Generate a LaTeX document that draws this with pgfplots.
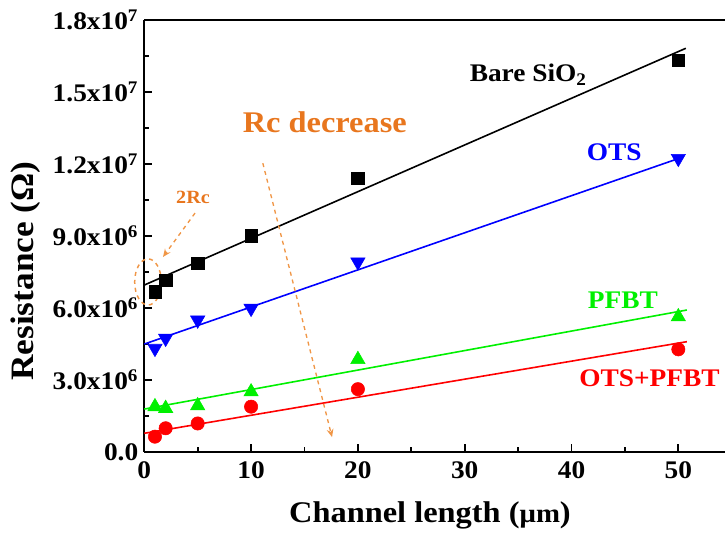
\documentclass[border=0pt]{standalone}
\usepackage{fontspec}
\setmainfont[FakeStretch=1.08]{Liberation Serif}
\usepackage{pgfplots}
\pgfplotsset{compat=1.18}
\usetikzlibrary{calc,arrows.meta}
\definecolor{rcorange}{RGB}{232,118,30}
\definecolor{dashorange}{RGB}{240,150,70}
\definecolor{pgreen}{RGB}{0,240,0}

\pgfplotstableread{
x y
1 6.67e6
2 7.16e6
5 7.85e6
10 9.0e6
20 11.4e6
50 16.33e6
}\bare
\pgfplotstableread{
x y
1 4.31e6
2 4.73e6
5 5.49e6
10 5.98e6
20 7.91e6
50 12.23e6
}\ots
\pgfplotstableread{
x y
1 1.88e6
2 1.81e6
5 1.92e6
10 2.50e6
20 3.85e6
50 5.63e6
}\pfbt
\pgfplotstableread{
x y
1 0.63e6
2 0.98e6
5 1.18e6
10 1.88e6
20 2.61e6
50 4.27e6
}\otspfbt

\begin{document}
\begin{tikzpicture}
\begin{axis}[
  scale only axis, width=435.5pt, height=323.8pt,
  xmin=0, xmax=54.37, ymin=0, ymax=1.8e7,
  axis x line*=box, axis y line*=left,
  xtick pos=bottom, ytick pos=left,
  tick align=inside,
  major tick length=6pt, minor tick length=3.5pt,
  xtick={0,10,20,30,40,50}, xticklabels={0,10,20,30,40,50},
  minor x tick num=1,
  ytick={0,3e6,6e6,9e6,1.2e7,1.5e7,1.8e7},
  yticklabels={0.0,3.0x10\textsuperscript{6},6.0x10\textsuperscript{6},9.0x10\textsuperscript{6},1.2x10\textsuperscript{7},1.5x10\textsuperscript{7},1.8x10\textsuperscript{7}},
  minor y tick num=1,
  scaled y ticks=false,
  tick label style={font=\fontsize{19}{21}\selectfont\bfseries},
  yticklabel style={xshift=-1pt},
  xticklabel style={yshift=-4pt},
  axis line style={line width=1.5pt},
  every tick/.style={line width=1.3pt, black},
  xlabel={Channel length ({\fontsize{20}{24}\selectfont μm})},
  ylabel={Resistance (Ω)},
  xlabel style={font=\fontsize{22.5}{26}\selectfont\bfseries, at={(axis description cs:0.492,-0.1466)}, anchor=center},
  ylabel style={font=\fontsize{24.5}{28}\selectfont\bfseries, at={(axis description cs:-0.2049,0.4186)}, anchor=center},
  clip=false,
]
\coordinate (bl) at (rel axis cs:0,0);
\coordinate (tr) at (rel axis cs:1,1);
% fitted lines
\addplot[black, line width=1.2pt] coordinates {(0,6.95e6) (50.7,16.82e6)};
\addplot[blue, line width=1.2pt] coordinates {(0,4.49e6) (50.5,12.3e6)};
\addplot[pgreen, line width=1.2pt] coordinates {(0,1.78e6) (50.8,5.91e6)};
\addplot[red, line width=1.2pt] coordinates {(0,0.77e6) (50.8,4.59e6)};
% data points
\addplot[only marks, mark=square*, mark size=4.6pt, black] table[x=x,y=y]{\bare};
\addplot[only marks, mark=triangle*, mark size=6.2pt, blue, mark options={rotate=180}] table[x=x,y=y]{\ots};
\addplot[only marks, mark=triangle*, mark size=6.2pt, pgreen] table[x=x,y=y]{\pfbt};
\addplot[only marks, mark=*, mark size=5pt, red] table[x=x,y=y]{\otspfbt};
% annotations
\node[font=\fontsize{19}{21}\selectfont\bfseries, black] at (axis cs:35.95,15.71e6) {Bare SiO\textsubscript{2}};
\node[font=\fontsize{19}{21}\selectfont\bfseries, blue] at (axis cs:44.0,12.49e6) {OTS};
\node[font=\fontsize{19}{21}\selectfont\bfseries, pgreen] at (axis cs:44.8,6.33e6) {PFBT};
\node[font=\fontsize{19}{21}\selectfont\bfseries, red] at (axis cs:47.3,3.07e6) {OTS+PFBT};
\node[font=\fontsize{22.5}{26}\selectfont\bfseries, rcorange] at (axis cs:16.9,13.75e6) {Rc decrease};
\node[font=\fontsize{14}{16}\selectfont\bfseries, rcorange] at (axis cs:4.56,10.62e6) {2Rc};
\draw[dashorange, dashed, line width=1.1pt] (axis cs:0.35,7.08e6) ellipse [x radius=10pt, y radius=17.3pt];
\draw[dashorange, dashed, line width=1pt, -{Stealth[length=6pt,width=5pt]}] (axis cs:4.75,9.95e6) -- (axis cs:1.75,8.12e6);
\draw[dashorange, dashed, line width=1pt, -{Stealth[length=6pt,width=5pt]}] (axis cs:11.1,12.03e6) -- (axis cs:17.58,0.61e6);
\end{axis}
\pgfresetboundingbox
\path[use as bounding box] ($(bl)+(-108.2pt,-62.5pt)$) rectangle ($(tr)+(0pt,15pt)$);
\end{tikzpicture}
\end{document}
